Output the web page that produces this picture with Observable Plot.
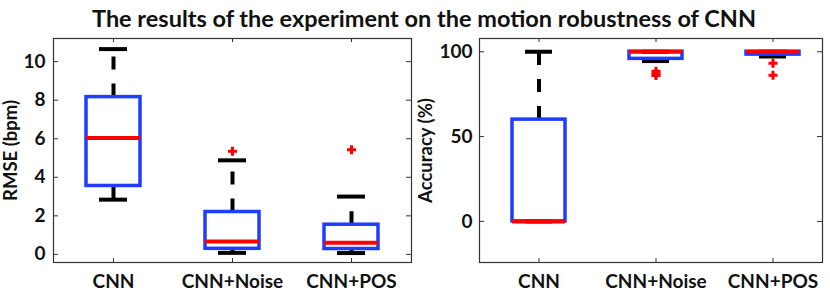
<!DOCTYPE html>
<html>
<head>
<meta charset="utf-8">
<script src="https://cdn.jsdelivr.net/npm/d3@7"></script>
<script src="https://cdn.jsdelivr.net/npm/@observablehq/plot@0.6"></script>
<style>
  html, body { margin: 0; padding: 0; background: #fff; }
  #wrap { position: relative; width: 830px; height: 292px; overflow: hidden; font-family: Lato, "Open Sans", sans-serif; }
  #title { position: absolute; top: 4px; left: 9px; width: 830px; text-align: center; font-weight: bold; color: #111; white-space: nowrap; line-height: 1.2; }
  #plots { position: absolute; top: 36px; left: 0; display: flex; }
  #plots svg { display: block; }
</style>
</head>
<body>
<div id="wrap">
  <div id="title">The results of the experiment on the motion robustness of CNN</div>
  <div id="plots"></div>
</div>
<script>
// ---- data ----
const categories = ["CNN", "CNN+Noise", "CNN+POS"];

// RMSE (bpm)
const rmseLow    = [2.84, 0.08, 0.07];
const rmseQ1     = [3.55, 0.29, 0.28];
const rmseMedian = [6.04, 0.67, 0.61];
const rmseQ3     = [8.16, 2.20, 1.54];
const rmseHigh   = [10.65, 4.88, 3.00];
const rmseOutlierCat = ["CNN+Noise", "CNN+POS"];
const rmseOutlierVal = [5.35, 5.43];
const rmseTicks = [0, 2, 4, 6, 8, 10];

// Accuracy (%)
const accLow    = [0, 94.5, 97.2];
const accQ1     = [0, 95.8, 98.3];
const accMedian = [0, 100, 100];
const accQ3     = [60, 100, 100];
const accHigh   = [100, 100, 100];
const accOutlierCat = ["CNN+Noise", "CNN+Noise", "CNN+Noise", "CNN+POS", "CNN+POS"];
const accOutlierVal = [86, 87, 88.5, 86.2, 93.2];
const accTicks = [0, 50, 100];

// ---- styling ----
const BLUE = "#1f3cff", RED = "#ff0000", INK = "#111";
const FONT = "Lato, 'Open Sans', sans-serif";

function boxPanel({low, q1, median, q3, high, outCat, outVal, ticks, yDomain, label,
                   marginLeft, marginRight, xRange, labelDx, tickPad}) {
  const W = 415, H = 256, marginTop = 2, marginBottom = 30;
  const innerW = W - marginLeft - marginRight, innerH = H - marginTop - marginBottom;
  const rows = categories.map((c, i) => ({cat: c, low: low[i], q1: q1[i], median: median[i], q3: q3[i], high: high[i]}));
  const outs = outCat.map((c, i) => ({cat: c, v: outVal[i]}));
  return Plot.plot({
    width: W, height: H, marginTop, marginBottom, marginLeft, marginRight,
    style: {fontFamily: FONT, fontSize: "19px", fontWeight: "bold", color: INK, background: "white"},
    x: {type: "band", domain: categories, range: xRange, paddingInner: 0.55, paddingOuter: 0.275, label: null},
    y: {domain: yDomain, label: null},
    marks: [
      // inner tick marks on all four sides
      Plot.tickY(ticks, {y: d => d, insetRight: innerW - 5, stroke: "#333", strokeWidth: 1}),
      Plot.tickY(ticks, {y: d => d, insetLeft: innerW - 5, stroke: "#333", strokeWidth: 1}),
      Plot.tickX(categories, {x: d => d, insetTop: innerH - 4, stroke: "#333", strokeWidth: 1}),
      Plot.tickX(categories, {x: d => d, insetBottom: innerH - 4, stroke: "#333", strokeWidth: 1}),
      // whiskers
      Plot.ruleX(rows, {x: "cat", y1: "q3", y2: "high", stroke: "black", strokeWidth: 4, strokeDasharray: "13,14"}),
      Plot.ruleX(rows, {x: "cat", y1: "q1", y2: "low", stroke: "black", strokeWidth: 4, strokeDasharray: "13,14"}),
      Plot.tickY(rows, {x: "cat", y: "high", stroke: "black", strokeWidth: 4, inset: 13}),
      Plot.tickY(rows, {x: "cat", y: "low", stroke: "black", strokeWidth: 4, inset: 13}),
      // box
      Plot.barY(rows, {x: "cat", y1: "q1", y2: "q3", fill: "none", stroke: BLUE, strokeWidth: 3.5}),
      // median
      Plot.tickY(rows, {x: "cat", y: "median", stroke: RED, strokeWidth: 4}),
      // outliers
      Plot.dot(outs, {x: "cat", y: "v", symbol: "cross", r: 3.8, fill: RED, stroke: "none"}),
      Plot.frame({stroke: "#333", strokeWidth: 1.2}),
      Plot.axisY(ticks, {tickSize: 0, tickPadding: tickPad, fontSize: 19, fontWeight: "bold", fill: INK}),
      Plot.axisX({tickSize: 0, tickPadding: 12, fontSize: 19, fontWeight: "bold", fill: INK}),
      Plot.text([label], {frameAnchor: "left", textAnchor: "middle", lineAnchor: "middle", rotate: -90, dx: labelDx, fontSize: 18.5, fontWeight: "bold", fill: INK})
    ]
  });
}

const left = boxPanel({
  low: rmseLow, q1: rmseQ1, median: rmseMedian, q3: rmseQ3, high: rmseHigh,
  outCat: rmseOutlierCat, outVal: rmseOutlierVal, ticks: rmseTicks,
  yDomain: [-0.42, 11.2], label: "RMSE (bpm)",
  marginLeft: 53, marginRight: 4, xRange: [53, 411], labelDx: -42, tickPad: 8
});
const right = boxPanel({
  low: accLow, q1: accQ1, median: accMedian, q3: accQ3, high: accHigh,
  outCat: accOutlierCat, outVal: accOutlierVal, ticks: accTicks,
  yDomain: [-24.2, 107.8], label: "Accuracy (%)",
  marginLeft: 64, marginRight: 8, xRange: [64, 417], labelDx: -53, tickPad: 7
});
document.getElementById("plots").append(left, right);

// fit the title to the reference width (~665px)
(function () {
  const t = document.getElementById("title");
  const ctx = document.createElement("canvas").getContext("2d");
  ctx.font = "bold 20px " + FONT;
  const w = ctx.measureText(t.textContent).width;
  t.style.fontSize = (20 * 665 / w).toFixed(2) + "px";
})();
</script>
</body>
</html>
